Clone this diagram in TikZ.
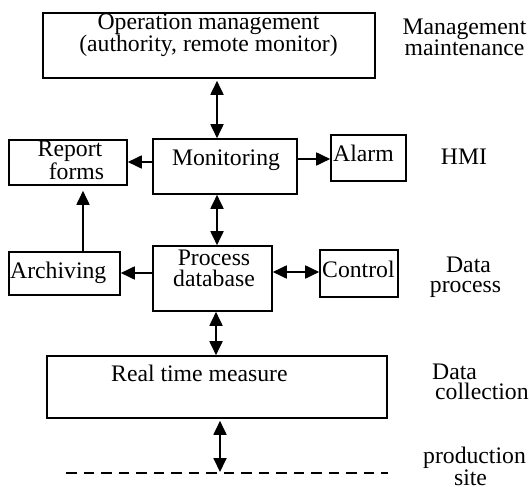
\documentclass[tikz,border=0pt]{standalone}
\usepackage{fontspec}
\setmainfont{Liberation Serif}
\usetikzlibrary{arrows.meta}
\begin{document}
\begin{tikzpicture}[x=1pt,y=-1pt,
  box/.style={draw, line width=1.6pt, inner sep=0pt},
  txt/.style={inner sep=0pt, anchor=base, align=center, font=\fontsize{23.7}{20}\selectfont},
  txtl/.style={txt, anchor=base west, align=left},
  link/.style={line width=1.8pt, -{Triangle[length=14pt,width=13pt]}},
  dlink/.style={line width=1.8pt, {Triangle[length=14pt,width=13pt]}-{Triangle[length=14pt,width=13pt]}},
  siteline/.style={line width=1.8pt, dash pattern=on 10.5pt off 7pt}]
\useasboundingbox (0,0) rectangle (530,487);

% boxes
\node[box, minimum width=332pt, minimum height=65pt] (top) at (209,45.5) {};
\node[box, minimum width=144pt, minimum height=55pt] (mon) at (225,166.5) {};
\node[box, minimum width=118pt, minimum height=45pt] (rep) at (68,162.5) {};
\node[box, minimum width=75pt, minimum height=46pt] (alarm) at (368.5,158) {};
\node[box, minimum width=119pt, minimum height=65pt] (proc) at (212.5,278.5) {};
\node[box, minimum width=111pt, minimum height=43pt] (arch) at (64.5,273.5) {};
\node[box, minimum width=78pt, minimum height=47pt] (ctrl) at (359,273.5) {};
\node[box, minimum width=340pt, minimum height=62pt] (rt) at (217,387) {};

% texts in boxes (base anchor = baseline of the last line)
\node[txt] (t1) at (208.5,52) {Operation management\\(authority, remote monitor)};
\node[txt] (tmon) at (226,165) {Monitoring};
\node[txt] (trep) at (70,179) {Report\\\hspace*{13pt}forms};
\node[txtl] (talarm) at (333,161) {Alarm};
\node[txt, font=\fontsize{23.7}{21}\selectfont] (tproc) at (214,286) {Process\\database};
\node[txtl] (tarch) at (10,278) {Archiving};
\node[txtl] (tctrl) at (322,277) {Control};
\node[txtl] (trt) at (111,381) {Real time measure};

% level labels
\node[txt] (l1) at (464.5,56) {Management\\maintenance};
\node[txt] (l2) at (464,164) {HMI};
\node[txt] (l3) at (465.5,292) {\hspace*{6pt}Data\\process};
\node[txtl] (l4) at (432,399) {Data\\\hspace*{3pt}collection};
\node[txt, font=\fontsize{23.7}{18}\selectfont] (l5) at (474.5,485) {production\\\hspace*{-8pt}site};

% production site line
\coordinate (d1) at (66,473);
\coordinate (d2) at (388,473);
\coordinate (site) at (220,472);
\draw[siteline] (d1) -- (d2);

% connectors
\draw[dlink] ([xshift=8pt,yshift=-2pt]top.south) -- ([xshift=-8pt]mon.north);
\draw[link] ([yshift=4.5pt]mon.west) -- ([yshift=0.5pt]rep.east);
\draw[link] ([yshift=7.5pt]mon.east) -- ([yshift=-1pt]alarm.west);
\draw[dlink] ([xshift=-8pt]mon.south) -- ([xshift=4.5pt]proc.north);
\draw[link] ([yshift=5.5pt]proc.west) -- ([yshift=0.5pt]arch.east);
\draw[link] ([xshift=18.5pt]arch.north) -- ([xshift=15pt,yshift=-5pt]rep.south);
\draw[dlink] ([yshift=6.5pt]proc.east) -- ([yshift=1.5pt]ctrl.west);
\draw[dlink] ([xshift=3.5pt]proc.south) -- ([xshift=-1pt]rt.north);
\draw[dlink] ([xshift=3pt,yshift=-2pt]rt.south) -- (site);
\end{tikzpicture}
\end{document}
